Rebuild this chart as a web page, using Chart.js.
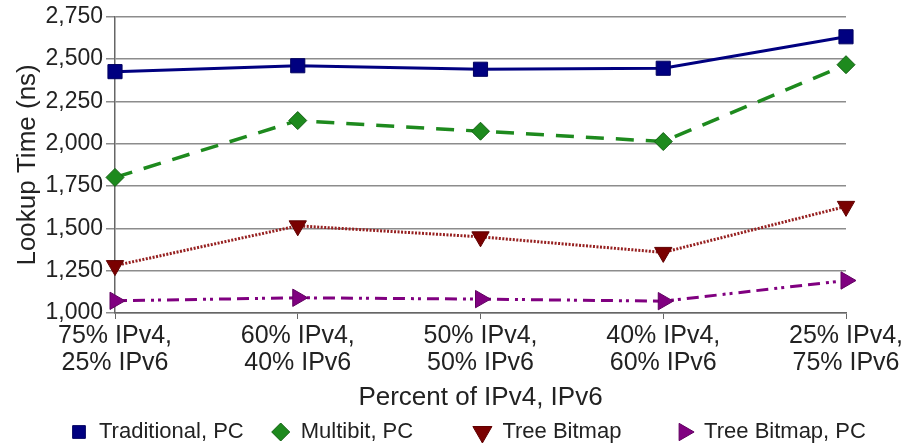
<!DOCTYPE html>
<html>
<head>
<meta charset="utf-8">
<script src="https://cdn.jsdelivr.net/npm/chart.js@4/dist/chart.umd.min.js"></script>
<style>
  html, body { margin: 0; padding: 0; background: #fff; }
  #wrap { width: 906px; height: 448px; }
</style>
</head>
<body>
<div id="wrap"><canvas id="chart" width="906" height="448"></canvas></div>
<script>
const categories = [
  ['75% IPv4,', '25% IPv6'],
  ['60% IPv4,', '40% IPv6'],
  ['50% IPv4,', '50% IPv6'],
  ['40% IPv4,', '60% IPv6'],
  ['25% IPv4,', '75% IPv6'],
];
const traditionalPC = [2426, 2461, 2440, 2446, 2632];
const multibitPC = [1801, 2137, 2074, 2013, 2467];
const treeBitmap = [1280, 1515, 1450, 1358, 1630];
const treeBitmapPC = [1072, 1090, 1082, 1070, 1192];
const yTicks = [1000, 1250, 1500, 1750, 2000, 2250, 2500, 2750];

Chart.defaults.font.family = '"Liberation Sans", Arial, sans-serif';
Chart.defaults.color = '#222';

// legend drawn in equal-width columns, like the original
const legendRadius = [9, 9, 11, 10];
const columnLegend = {
  id: 'columnLegend',
  afterDraw(chart) {
    const { ctx } = chart;
    const firstX = 79;
    const step = 201.7;
    const y = 432;
    ctx.save();
    chart.data.datasets.forEach((ds, i) => {
      const cx = firstX + i * step;
      ctx.fillStyle = ds.backgroundColor;
      ctx.strokeStyle = ds.pointBorderColor;
      ctx.lineWidth = 1;
      Chart.helpers.drawPoint(ctx, {
        pointStyle: ds.pointStyle,
        rotation: ds.pointRotation || 0,
        radius: legendRadius[i],
        borderWidth: 1,
      }, cx, y);
      ctx.fillStyle = '#222';
      ctx.font = '22px "Liberation Sans", Arial, sans-serif';
      ctx.textBaseline = 'middle';
      ctx.textAlign = 'left';
      ctx.fillText(ds.label, cx + 20, y);
    });
    ctx.restore();
  },
};

const ctx = document.getElementById('chart').getContext('2d');

new Chart(ctx, {
  type: 'line',
  data: {
    labels: categories,
    datasets: [
      {
        label: 'Traditional, PC',
        data: traditionalPC,
        borderColor: '#000080',
        backgroundColor: '#000080',
        borderWidth: 3,
        pointStyle: 'rect',
        pointRadius: 10,
        pointBorderColor: '#000060',
        pointBorderWidth: 1,
        tension: 0,
      },
      {
        label: 'Multibit, PC',
        data: multibitPC,
        borderColor: '#1e8a1e',
        backgroundColor: '#1e8a1e',
        borderWidth: 3.5,
        borderDash: [18, 12],
        pointStyle: 'rectRot',
        pointRadius: 9,
        pointBorderColor: '#106010',
        pointBorderWidth: 1,
        tension: 0,
      },
      {
        label: 'Tree Bitmap',
        data: treeBitmap,
        borderColor: '#962020',
        backgroundColor: '#7a0000',
        borderWidth: 3,
        borderDash: [2, 1.5],
        pointStyle: 'triangle',
        pointRotation: 180,
        pointRadius: 10,
        pointBorderColor: '#600000',
        pointBorderWidth: 1,
        tension: 0,
      },
      {
        label: 'Tree Bitmap, PC',
        data: treeBitmapPC,
        borderColor: '#800080',
        backgroundColor: '#800080',
        borderWidth: 3,
        borderDash: [12, 6, 12, 6, 3, 4, 3, 6],
        pointStyle: 'triangle',
        pointRotation: 90,
        pointRadius: 10,
        pointBorderColor: '#600060',
        pointBorderWidth: 1,
        tension: 0,
      },
    ],
  },
  plugins: [columnLegend],
  options: {
    responsive: false,
    animation: false,
    layout: {
      padding: { left: 0, right: 60, top: 15, bottom: 35 },
    },
    plugins: {
      legend: { display: false },
      tooltip: { enabled: false },
    },
    scales: {
      x: {
        type: 'category',
        offset: false,
        afterFit: (scale) => {
          scale.height = 100;
        },
        grid: {
          drawOnChartArea: false,
          drawTicks: true,
          tickLength: 6,
          color: '#666',
        },
        border: { color: '#666', width: 1.5 },
        ticks: {
          font: { size: 25, lineHeight: 1.1 },
          color: '#222',
          maxRotation: 0,
          autoSkip: false,
          padding: 3,
        },
        title: {
          display: true,
          text: 'Percent of IPv4, IPv6',
          font: { size: 26 },
          color: '#222',
          padding: { top: 0, bottom: 0 },
        },
      },
      y: {
        min: 1000,
        max: 2750,
        afterBuildTicks: (scale) => {
          scale.ticks = yTicks.map((v) => ({ value: v }));
        },
        afterFit: (scale) => {
          scale.width = 115;
        },
        grid: {
          color: '#8c8c8c',
          lineWidth: 1.5,
          tickLength: 9,
        },
        border: { color: '#666', width: 1.5 },
        ticks: {
          font: { size: 23 },
          color: '#222',
          padding: 3,
          callback: (value) => value.toLocaleString('en-US'),
        },
        title: {
          display: true,
          text: 'Lookup Time (ns)',
          font: { size: 26 },
          color: '#222',
          padding: { top: 12, bottom: 0 },
        },
      },
    },
  },
});
</script>
</body>
</html>
